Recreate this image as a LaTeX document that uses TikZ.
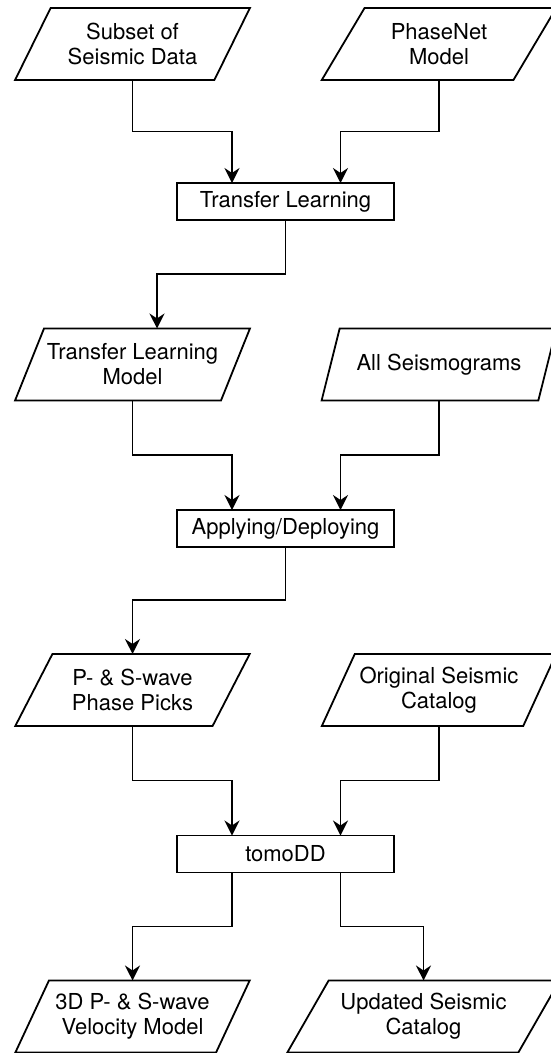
\documentclass[tikz,border=0pt]{standalone}
\usepackage{fontspec}
\setmainfont{TeX Gyre Heros}
\usetikzlibrary{shapes.geometric,arrows.meta}

\begin{document}
\begin{tikzpicture}[x=1pt,y=-1pt,
    >={Stealth[length=15pt,width=15pt,inset=5pt]},
    every node/.style={font=\fontsize{22}{25}\selectfont},
    data/.style={draw, line width=1.8pt, trapezium, trapezium stretches=true,
        trapezium left angle=56.9, trapezium right angle=123.1,
        minimum width=235pt, minimum height=72pt, inner sep=1pt, outer sep=0pt, align=center},
    task/.style={draw, line width=1.8pt, rectangle, minimum width=217pt,
        minimum height=37pt, inner sep=0pt, outer sep=0pt},
    flow/.style={->, line width=1.8pt}]
    \useasboundingbox (0,0) rectangle (550,1053);

    % Training
    \node[data] (subset) at (132.5,44) {Subset of\\Seismic Data};
    \node[data] (phasenet) at (439,44) {PhaseNet\\Model};
    \node[task] (transfer) at (285.5,201.5) {Transfer Learning};

    % Deploying
    \node[data] (tlmodel) at (132.5,364.5) {Transfer Learning\\Model};
    \node[data] (allseis) at (439,364.5) {All Seismograms};
    \node[task] (apply) at (285.5,528.5) {Applying/Deploying};

    % Tomography
    \node[data] (picks) at (132.5,690) {P- \& S-wave\\Phase Picks};
    \node[data] (catalog) at (439,690) {Original Seismic\\Catalog};
    \node[task] (tomo) at (285.5,854) {tomoDD};

    % Results
    \node[data] (velmodel) at (132.5,1016.5) {3D P- \& S-wave\\Velocity Model};
    \node[data, minimum width=273pt, trapezium left angle=52.8,
        trapezium right angle=127.2] (updated) at (423.5,1016.5) {Updated Seismic\\Catalog};

    % Connectors
    \draw[flow] (subset.south) -- ++(0,51.5) -| ([xshift=-53.5pt]transfer.north);
    \draw[flow] (phasenet.south) -- ++(0,51.5) -| ([xshift=55pt]transfer.north);
    \draw[flow] (transfer.south) -- ++(0,54) -| ([xshift=24.5pt]tlmodel.north);
    \draw[flow] (tlmodel.south) -- ++(0,54.5) -| ([xshift=-53.5pt]apply.north);
    \draw[flow] (allseis.south) -- ++(0,54.5) -| ([xshift=55pt]apply.north);
    \draw[flow] (apply.south) -- ++(0,53) -| (picks.north);
    \draw[flow] (picks.south) -- ++(0,54.5) -| ([xshift=-53.5pt]tomo.north);
    \draw[flow] (catalog.south) -- ++(0,54.5) -| ([xshift=55pt]tomo.north);
    \draw[flow] ([xshift=-53.5pt]tomo.south) -- ++(0,54) -| (velmodel.north);
    \draw[flow] ([xshift=55pt]tomo.south) -- ++(0,54) -| (updated.north);
\end{tikzpicture}
\end{document}
